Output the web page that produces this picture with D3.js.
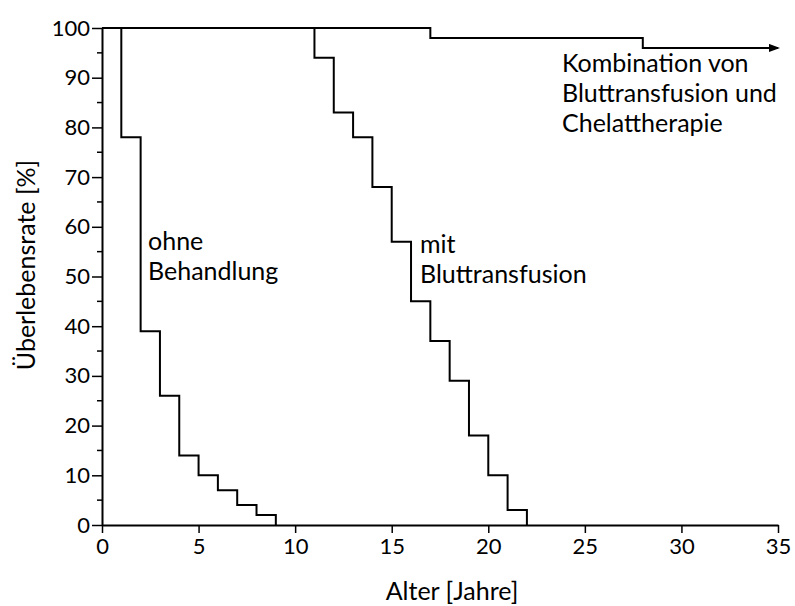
<!DOCTYPE html>
<html>
<head>
<meta charset="utf-8">
<script src="https://cdn.jsdelivr.net/npm/d3@7"></script>
<style>
  body { margin: 0; background: #fff; }
  svg text { font-family: Lato, "Open Sans", sans-serif; fill: #000; }
</style>
</head>
<body>
<svg id="chart" width="795" height="606"></svg>
<script>
// Überlebensrate (Stufenkurven)
const ohneJahre = [0, 1, 2, 3, 4, 5, 6, 7, 8, 9];
const ohneWerte = [100, 78, 39, 26, 14, 10, 7, 4, 2, 0];

const mitJahre = [0, 11, 12, 13, 14, 15, 16, 17, 18, 19, 20, 21, 22];
const mitWerte = [100, 94, 83, 78, 68, 57, 45, 37, 29, 18, 10, 3, 0];

const kombiJahre = [0, 17, 28, 35];
const kombiWerte = [100, 98, 96, 96];

const xTicks = [0, 5, 10, 15, 20, 25, 30, 35];
const yTicks = [0, 10, 20, 30, 40, 50, 60, 70, 80, 90, 100];
const yMinor = [5, 15, 25, 35, 45, 55, 65, 75, 85, 95];

const svg = d3.select("#chart");

const x = d3.scaleLinear().domain([0, 35]).range([102, 778]);
const y = d3.scaleLinear().domain([0, 100]).range([525, 28]);

// y-Achse
const yAxis = svg.append("g")
  .attr("transform", "translate(102,0)")
  .call(d3.axisLeft(y).tickValues(yTicks).tickSize(10).tickSizeOuter(0).tickPadding(2));
yAxis.select(".domain").attr("stroke-width", 2);
yAxis.selectAll(".tick line").attr("stroke-width", 1.5);
yAxis.selectAll(".tick text").attr("font-size", 22).attr("font-family", null);

svg.append("g").selectAll("line")
  .data(yMinor)
  .enter()
  .append("line")
  .attr("x1", 97).attr("x2", 102)
  .attr("y1", d => y(d)).attr("y2", d => y(d))
  .attr("stroke", "#000").attr("stroke-width", 1.5);

// x-Achse
const xAxis = svg.append("g")
  .attr("transform", "translate(0,525)")
  .call(d3.axisBottom(x).tickValues(xTicks).tickSize(8).tickSizeOuter(0).tickPadding(5));
xAxis.select(".domain").attr("stroke-width", 2);
xAxis.selectAll(".tick line").attr("stroke-width", 1.5);
xAxis.selectAll(".tick text").attr("font-size", 22).attr("font-family", null);

// Pfeilspitze
svg.append("defs").append("marker")
  .attr("id", "arrow")
  .attr("viewBox", "0 0 11 8")
  .attr("refX", 9).attr("refY", 4)
  .attr("markerWidth", 11).attr("markerHeight", 8)
  .attr("markerUnits", "userSpaceOnUse")
  .attr("orient", "auto")
  .append("path")
  .attr("d", "M0,0 L11,4 L0,8 Z")
  .attr("fill", "#000");

const line = d3.line()
  .x(d => x(d[0]))
  .y(d => y(d[1]))
  .curve(d3.curveStepAfter);

const kurven = [
  { jahre: ohneJahre, werte: ohneWerte, pfeil: false },
  { jahre: mitJahre, werte: mitWerte, pfeil: false },
  { jahre: kombiJahre, werte: kombiWerte, pfeil: true }
];

kurven.forEach(k => {
  const pts = k.jahre.map((j, i) => [j, k.werte[i]]);
  const p = svg.append("path")
    .datum(pts)
    .attr("d", line)
    .attr("fill", "none")
    .attr("stroke", "#000")
    .attr("stroke-width", 2);
  if (k.pfeil) p.attr("marker-end", "url(#arrow)");
});

// Beschriftungen
function label(lines, xPos, yPos) {
  const t = svg.append("text").attr("font-size", 25);
  lines.forEach((s, i) => {
    t.append("tspan").attr("x", xPos).attr("y", yPos + i * 30).text(s);
  });
}
label(["ohne", "Behandlung"], 148, 250);
label(["mit", "Bluttransfusion"], 420, 253);
label(["Kombination von", "Bluttransfusion und", "Chelattherapie"], 562, 72);

// Achsentitel
svg.append("text")
  .attr("text-anchor", "middle")
  .attr("font-size", 25)
  .attr("x", 452).attr("y", 600)
  .text("Alter [Jahre]");

svg.append("text")
  .attr("text-anchor", "middle")
  .attr("font-size", 25)
  .attr("transform", "translate(35,265) rotate(-90)")
  .text("Überlebensrate [%]");
</script>
</body>
</html>
